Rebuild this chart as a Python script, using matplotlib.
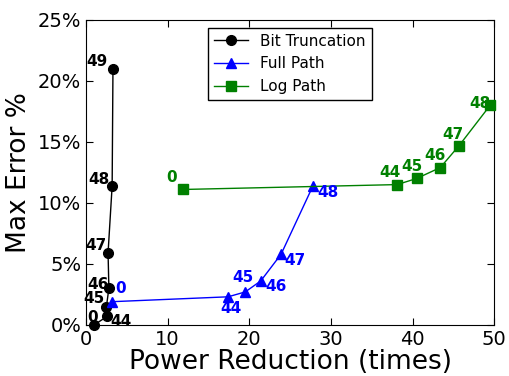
import matplotlib
matplotlib.use('Agg')
import matplotlib.pyplot as plt
from matplotlib.ticker import FuncFormatter

# data
bit_x = [1.0, 2.6, 2.5, 2.8, 2.7, 3.2, 3.3]
bit_y = [0.0, 0.7, 1.5, 3.0, 5.9, 11.4, 21.0]
bit_lbl = ['0', '44', '45', '46', '47', '48', '49']

full_x = [3.2, 17.4, 19.5, 21.4, 23.9, 27.8]
full_y = [1.9, 2.3, 2.7, 3.6, 5.8, 11.4]
full_lbl = ['0', '44', '45', '46', '47', '48']

log_x = [11.9, 38.1, 40.5, 43.4, 45.7, 49.5]
log_y = [11.1, 11.5, 12.0, 12.9, 14.7, 18.0]
log_lbl = ['0', '44', '45', '46', '47', '48']

# label offsets in pixels (dx, dy)
bit_off = [(-2, 7), (14, -5), (-12, 8), (-11, 4), (-12, 7), (-13, 6), (-16, 7)]
full_off = [(8, 13), (3, -12), (-2, 14), (15, -6), (14, -6), (15, -7)]
log_off = [(-12, 12), (-7, 12), (-5, 12), (-5, 12), (-6, 11), (-10, 2)]

fig = plt.figure(figsize=(5.09, 3.76), dpi=100)
ax = fig.add_axes([0.169, 0.136, 0.802, 0.811])

ax.plot(bit_x, bit_y, 'k-o', lw=1, ms=7, label='Bit Truncation', clip_on=False, zorder=3)
ax.plot(full_x, full_y, 'b-^', lw=1, ms=7, label='Full Path', clip_on=False, zorder=3)
ax.plot(log_x, log_y, 'g-s', lw=1, ms=7, label='Log Path', clip_on=False, zorder=3)

for xs, ys, lbls, offs, c in [(bit_x, bit_y, bit_lbl, bit_off, 'k'),
                              (full_x, full_y, full_lbl, full_off, 'b'),
                              (log_x, log_y, log_lbl, log_off, 'g')]:
    for x, y, s, (dx, dy) in zip(xs, ys, lbls, offs):
        ax.annotate(s, (x, y), xytext=(dx, dy), textcoords='offset pixels',
                    ha='center', va='center', color=c, fontsize=11,
                    fontweight='bold', zorder=4)

ax.set_xlim(0, 50)
ax.set_ylim(0, 25)
ax.set_xticks([0, 10, 20, 30, 40, 50])
ax.set_yticks([0, 5, 10, 15, 20, 25])
ax.yaxis.set_major_formatter(FuncFormatter(lambda v, p: '%d%%' % v))
ax.tick_params(direction='in', top=True, right=True, labelsize=14, length=5)
ax.set_xlabel('Power Reduction (times)', fontsize=19, labelpad=0)
ax.set_ylabel('Max Error %', fontsize=19, labelpad=4)

leg = ax.legend(loc='upper center', fontsize=11, fancybox=False, framealpha=1,
                borderaxespad=0.5, handlelength=2.2)
leg.get_frame().set_edgecolor('black')

plt.savefig('out.png', dpi=100)
